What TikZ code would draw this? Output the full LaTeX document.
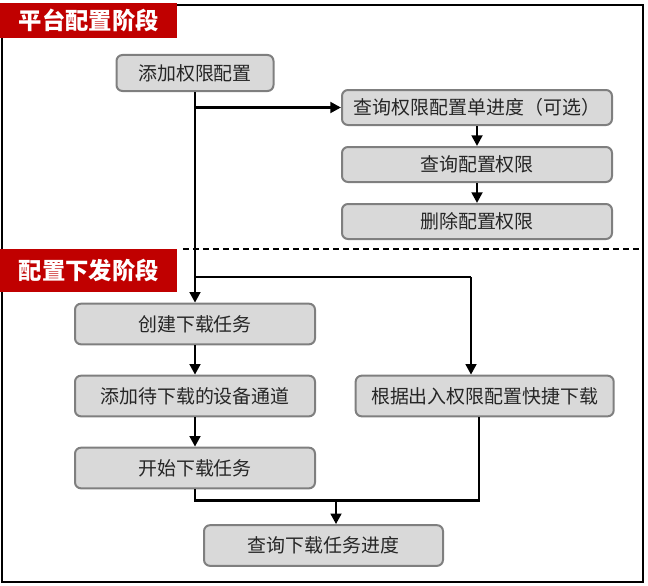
\documentclass[tikz,border=0pt]{standalone}
\usepackage{fontspec}
\setmainfont{Noto Sans CJK SC}
\usepackage{tikz}
\usetikzlibrary{arrows.meta, positioning}
\definecolor{stagered}{HTML}{C00000}
\definecolor{boxfill}{HTML}{D9D9D9}
\definecolor{boxline}{HTML}{7F7F7F}
\definecolor{boxtext}{HTML}{262626}

\begin{document}
\begin{tikzpicture}[
  x=0.75pt, y=-0.75pt,
  node distance=15pt and 29pt,
  box/.style={draw=boxline, fill=boxfill, line width=1.5pt, rounded corners=4.5pt, minimum width=202.5pt, minimum height=26.25pt, align=center, inner sep=0pt, text=boxtext, font=\fontsize{14.2}{16}\selectfont},
  lowbox/.style={box, minimum width=180pt, minimum height=30.5pt},
  stage/.style={fill=stagered, text=white, minimum width=132.75pt, inner sep=0pt, font=\fontsize{17.5}{20}\selectfont\bfseries},
  link/.style={line width=2pt},
  arr/.style={link, -{Triangle[length=8pt, width=8pt]}}
]
\useasboundingbox (0,0) rectangle (648,585);

% frame and stage divider
\draw[line width=2pt] (2,5) rectangle (643,582);
\draw[line width=1.5pt, dash pattern=on 4.5pt off 3pt] (183,249) -- (640,249);

% stage labels
\node[stage, minimum height=26.25pt, anchor=north west] (platform) at (0,3) {平台配置阶段};
\node[stage, minimum height=32.25pt, anchor=north west] (deploy) at (0,249) {配置下发阶段};

% Stage 1: platform configuration
\node[box, minimum width=117.75pt, minimum height=27pt] (addperm) at (195,73) {添加权限配置};
\node[box] (progress) at (477,107.5) {查询权限配置单进度（可选）};
\node[box, below=of progress] (query) {查询配置权限};
\node[box, below=of query] (delete) {删除配置权限};

% Stage 2: download
\node[lowbox] (create) at (195,324) {创建下载任务};
\node[lowbox, below=22pt of create] (channel) {添加待下载的设备通道};
\node[lowbox, below=22pt of channel] (start) {开始下载任务};
\node[lowbox, right=of channel, minimum width=193.5pt] (quick) {根据出入权限配置快捷下载};
\node[lowbox, minimum width=179.25pt] (dlprog) at (323.5,545.5) {查询下载任务进度};

% Arrows
\draw[arr] (addperm) -- (create);
\draw[arr] (addperm.south |- progress.west) -- (progress);
\draw[arr] (progress) -- (query);
\draw[arr] (query) -- (delete);
\coordinate (fork) at (471,277);
\draw[link] (addperm.south |- fork) -- (fork);
\draw[arr] (fork) -- (fork |- quick.north);
\draw[arr] (create) -- (channel);
\draw[arr] (channel) -- (start);
\coordinate (merge) at (479,500.7);
\draw[link] (start.south) |- (merge) -- (merge |- quick.south);
\coordinate (join) at (336,500.7);
\draw[arr] (join) -- (join |- dlprog.north);

\end{tikzpicture}
\end{document}
